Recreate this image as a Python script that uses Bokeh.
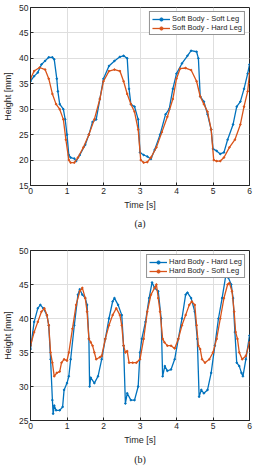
from bokeh.plotting import figure
from bokeh.layouts import column
from bokeh.models import Title, Legend, LegendItem, Range1d, FixedTicker
from bokeh.embed import file_html
from bokeh.resources import INLINE

# ---- Data: panel (a) ----
a_soft_t = [0, 0.1, 0.2, 0.3, 0.4, 0.5, 0.6, 0.65, 0.72, 0.75, 0.8, 0.9, 0.95, 1.0, 1.05, 1.1, 1.2, 1.25,
            1.35, 1.5, 1.6, 1.7, 1.8, 1.9, 2.0, 2.15, 2.3, 2.45, 2.55, 2.65, 2.7, 2.75, 2.85, 2.95, 3.0,
            3.1, 3.2, 3.3, 3.4, 3.55, 3.7, 3.8, 3.9, 4.0, 4.15, 4.3, 4.4, 4.55, 4.6, 4.65, 4.75, 4.85,
            4.95, 5.0, 5.1, 5.2, 5.3, 5.4, 5.55, 5.65, 5.75, 5.85, 5.95, 6.0]
a_soft_h = [35.5, 36.5, 37.2, 38.8, 39.5, 40.2, 40.2, 39.8, 36.0, 33.5, 31.0, 30.0, 28.0, 25.0, 21.0, 20.5, 20.3, 19.8,
            21.0, 23.0, 25.0, 27.5, 28.0, 32.0, 36.0, 38.5, 39.5, 40.3, 40.5, 40.0, 34.0, 31.0, 30.5, 28.0, 21.5,
            21.0, 20.7, 20.2, 22.0, 25.0, 29.0, 30.0, 34.0, 37.0, 39.0, 40.5, 41.5, 41.3, 40.0, 32.5, 31.5, 29.0,
            26.0, 22.2, 21.8, 21.2, 21.5, 24.0, 27.0, 30.5, 31.5, 34.0, 37.0, 38.8]

a_hard_t = [0, 0.1, 0.25, 0.4, 0.5, 0.6, 0.7, 0.8, 0.9, 0.97, 1.05, 1.1, 1.2, 1.3, 1.45, 1.6, 1.75, 1.9, 2.0,
            2.15, 2.3, 2.45, 2.55, 2.65, 2.75, 2.85, 2.95, 3.02, 3.1, 3.2, 3.3, 3.45, 3.6, 3.75, 3.9, 4.0,
            4.1, 4.25, 4.4, 4.55, 4.65, 4.75, 4.85, 4.95, 5.02, 5.1, 5.2, 5.3, 5.45, 5.6, 5.75, 5.85, 5.95, 6.0]
a_hard_h = [36.0, 37.5, 38.2, 37.8, 36.0, 33.0, 31.0, 30.0, 28.0, 24.0, 20.0, 19.5, 19.5, 20.5, 22.5, 25.0, 28.0, 32.0, 35.5,
            37.5, 37.8, 37.5, 35.5, 33.0, 31.0, 29.5, 26.0, 20.0, 19.5, 19.6, 20.5, 22.5, 25.5, 28.5, 32.0, 36.0,
            38.0, 38.1, 37.7, 35.5, 32.5, 31.0, 29.5, 26.0, 20.0, 19.8, 19.8, 20.5, 22.5, 24.0, 27.0, 30.5, 33.5, 37.0]

# ---- Data: panel (b) ----
b_hard_t = [0, 0.1, 0.2, 0.27, 0.35, 0.45, 0.5, 0.55, 0.6, 0.62, 0.65, 0.7, 0.8, 0.88, 0.92, 1.0, 1.05, 1.1,
            1.2, 1.3, 1.35, 1.42, 1.5, 1.55, 1.6, 1.62, 1.65, 1.75, 1.85, 1.95, 2.05, 2.15, 2.25, 2.3, 2.4,
            2.5, 2.55, 2.6, 2.65, 2.75, 2.85, 2.95, 3.0, 3.05, 3.15, 3.25, 3.33, 3.4, 3.5, 3.58, 3.62, 3.68,
            3.75, 3.85, 3.95, 4.05, 4.15, 4.25, 4.3, 4.4, 4.5, 4.57, 4.62, 4.68, 4.75, 4.85, 4.95, 5.05, 5.15,
            5.25, 5.35, 5.42, 5.5, 5.55, 5.6, 5.65, 5.72, 5.78, 5.82, 5.9, 6.0]
b_hard_h = [35.5, 39.5, 41.5, 42.0, 41.5, 40.5, 39.0, 34.0, 28.0, 26.0, 27.2, 26.5, 26.5, 27.0, 29.5, 30.5, 31.5, 34.0,
            39.0, 43.5, 44.3, 43.5, 43.0, 42.0, 37.0, 30.0, 31.3, 30.5, 31.5, 34.0, 37.0, 40.0, 42.5, 43.0, 42.0,
            40.5, 36.0, 27.5, 29.0, 28.0, 28.0, 30.0, 35.0, 37.0, 39.5, 43.0, 45.3, 44.5, 44.0, 40.0, 31.5, 33.0,
            32.3, 32.5, 34.0, 37.0, 40.0, 43.5, 43.8, 43.0, 41.0, 37.0, 28.5, 29.5, 29.0, 29.5, 32.0, 36.0, 40.0,
            43.0, 46.3, 46.0, 45.0, 43.0, 38.0, 33.5, 33.0, 32.0, 31.5, 34.0, 37.5]

b_soft_t = [0, 0.1, 0.2, 0.3, 0.38, 0.45, 0.5, 0.55, 0.6, 0.65, 0.72, 0.8, 0.85, 0.92, 1.0, 1.05, 1.15, 1.25,
            1.35, 1.42, 1.5, 1.55, 1.6, 1.65, 1.7, 1.75, 1.8, 1.9, 1.95, 2.05, 2.15, 2.25, 2.35, 2.45, 2.5,
            2.55, 2.6, 2.65, 2.7, 2.8, 2.9, 3.0, 3.1, 3.2, 3.3, 3.4, 3.45, 3.5, 3.55, 3.62, 3.67, 3.75, 3.85,
            3.95, 4.05, 4.15, 4.25, 4.35, 4.42, 4.5, 4.55, 4.6, 4.65, 4.7, 4.78, 4.9, 5.0, 5.1, 5.2, 5.3, 5.4,
            5.45, 5.52, 5.58, 5.62, 5.67, 5.72, 5.8, 5.9, 6.0]
b_soft_h = [36.0, 38.0, 39.5, 41.0, 41.5, 40.5, 39.0, 35.0, 33.5, 31.5, 32.0, 32.2, 33.5, 34.0, 33.8, 35.0, 38.5, 42.0,
            44.0, 44.5, 43.0, 41.0, 37.0, 36.5, 36.0, 35.0, 34.0, 34.3, 34.5, 37.0, 39.0, 40.5, 41.5, 40.5, 39.0,
            36.0, 35.0, 35.2, 33.5, 33.5, 33.5, 34.0, 37.0, 41.0, 43.5, 44.5, 45.0, 43.0, 41.0, 37.0, 36.5, 36.0, 36.0,
            35.6, 37.0, 39.0, 40.5, 42.0, 42.5, 42.0, 39.0, 36.0, 35.5, 34.0, 33.5, 34.0, 35.0, 37.0, 40.0, 43.0, 45.0,
            45.2, 44.0, 41.0, 38.0, 37.0, 35.0, 34.0, 34.5, 36.5]

a_labels = ["Soft Body - Soft Leg", "Soft Body - Hard Leg"]
b_labels = ["Hard Body - Hard Leg", "Hard Body - Soft Leg"]
x_ticks = [0, 1, 2, 3, 4, 5, 6]
a_y_ticks = [15, 20, 25, 30, 35, 40, 45, 50]
b_y_ticks = [25, 30, 35, 40, 45, 50]

BLUE = "#0072BD"
ORANGE = "#D95319"
DARK = "#262626"
FONT = "Liberation Sans"


def make_panel(series, labels, y_range, y_ticks, caption, top, bottom, height, cap_standoff):
    p = figure(width=253, height=height, output_backend="svg", toolbar_location=None,
               x_range=Range1d(0, 6), y_range=Range1d(*y_range),
               min_border_left=23, min_border_right=4, min_border_top=top, min_border_bottom=bottom)
    p.outline_line_color = DARK
    p.outline_line_width = 1
    for ax, ticks in ((p.xaxis, x_ticks), (p.yaxis, y_ticks)):
        ax.ticker = FixedTicker(ticks=ticks)
        ax.major_tick_in = 3
        ax.major_tick_out = 0
        ax.minor_tick_line_color = None
        ax.axis_line_color = DARK
        ax.major_tick_line_color = DARK
        ax.major_label_text_font = FONT
        ax.major_label_text_font_size = "8.5px"
        ax.major_label_text_color = DARK
        ax.major_label_standoff = 2
        ax.axis_label_text_font = FONT
        ax.axis_label_text_font_size = "9px"
        ax.axis_label_text_font_style = "normal"
        ax.axis_label_text_color = DARK
        ax.axis_label_standoff = 3
    p.xaxis.axis_label = "Time [s]"
    p.yaxis.axis_label = "Height [mm]"
    p.grid.grid_line_color = "#dedede"
    p.grid.grid_line_width = 1

    items = []
    for (t, h), color, lab in zip(series, (BLUE, ORANGE), labels):
        r1 = p.line(t, h, line_color=color, line_width=1.3)
        r2 = p.scatter(t, h, marker="circle", size=1.6, fill_color=color, line_color=color)
        items.append(LegendItem(label=lab, renderers=[r1, r2]))
    leg = Legend(items=items, location="top_right")
    leg.label_text_font = FONT
    leg.label_text_font_size = "7.5px"
    leg.label_text_color = DARK
    leg.label_height = 8
    leg.glyph_height = 8
    leg.glyph_width = 18
    leg.spacing = 0
    leg.padding = 2
    leg.margin = 4
    leg.label_standoff = 2
    leg.border_line_color = DARK
    leg.background_fill_alpha = 1
    p.add_layout(leg)

    cap = Title(text=caption, align="center", text_font="Liberation Serif",
                text_font_size="10px", text_font_style="normal", text_color="#222222",
                standoff=cap_standoff)
    p.add_layout(cap, "below")
    return p


pa = make_panel([(a_soft_t, a_soft_h), (a_hard_t, a_hard_h)], a_labels, (15, 50), a_y_ticks,
                "(a)", 7, 49, 234, 6)
pb = make_panel([(b_hard_t, b_hard_h), (b_soft_t, b_soft_h)], b_labels, (25, 50), b_y_ticks,
                "(b)", 16, 40, 234, 8)

layout = column(pa, pb, spacing=0)
open("out.html", "w").write(file_html(layout, INLINE))
